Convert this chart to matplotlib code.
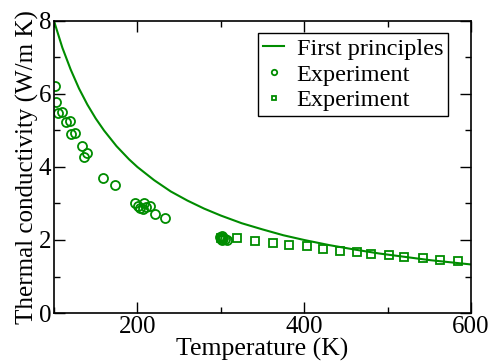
import matplotlib
matplotlib.use("Agg")
import matplotlib.pyplot as plt
from matplotlib.ticker import MultipleLocator

# First-principles curve
fp_T = [100, 110, 120, 130, 140, 150, 160, 175, 190, 200, 220, 240, 260, 280, 300,
        325, 350, 375, 400, 430, 460, 490, 520, 550, 575, 600]
fp_k = [8.00, 7.27, 6.67, 6.15, 5.71, 5.33, 5.00, 4.57, 4.21, 4.00, 3.64, 3.33,
        3.08, 2.86, 2.67, 2.46, 2.29, 2.13, 2.00, 1.86, 1.74, 1.63, 1.54, 1.45, 1.39, 1.33]

# Experiment (circles)
c_T = [101, 102, 105, 110, 114, 119, 120, 125, 133, 136, 140, 159, 173,
       197, 201, 203, 207, 208, 210, 215, 221, 233,
       299, 300, 301, 302, 303, 305, 307]
c_k = [6.23, 5.79, 5.49, 5.52, 5.22, 5.27, 4.91, 4.93, 4.58, 4.27, 4.39, 3.70, 3.51,
       3.02, 2.93, 2.89, 2.86, 3.00, 2.91, 2.92, 2.70, 2.61,
       2.08, 2.03, 2.10, 2.00, 2.06, 2.02, 2.00]

# Experiment (squares)
s_T = [300, 320, 341, 362, 382, 403, 423, 443, 463, 480, 502, 520, 542, 563, 584]
s_k = [2.05, 2.05, 1.98, 1.93, 1.87, 1.83, 1.76, 1.71, 1.66, 1.63, 1.60, 1.53, 1.50, 1.45, 1.42]

green = '#008c00'
plt.rcParams['font.family'] = ['Liberation Serif', 'DejaVu Serif']

fig = plt.figure(figsize=(4.93, 3.62), dpi=100)
ax = fig.add_axes([54/493, 1-313/362, (471-54)/493, (313-21)/362])

ax.plot(fp_T, fp_k, color=green, lw=1.5, label='First principles')
ax.plot(c_T, c_k, ls='none', marker='o', ms=6.5, mfc='none', mec=green, mew=1.3,
        label='Experiment')
ax.plot(s_T, s_k, ls='none', marker='s', ms=6, mfc='none', mec=green, mew=1.3,
        label='Experiment')

ax.set_xlim(100, 600)
ax.set_ylim(0, 8)
ax.xaxis.set_major_locator(MultipleLocator(200))
ax.xaxis.set_minor_locator(MultipleLocator(100))
ax.yaxis.set_major_locator(MultipleLocator(2))
ax.yaxis.set_minor_locator(MultipleLocator(1))
ax.tick_params(which='both', direction='in', top=True, right=True, labelsize=18, width=1)
ax.tick_params(which='major', length=8, pad=2)
ax.tick_params(which='minor', length=4)
for s in ax.spines.values():
    s.set_linewidth(1.2)
ax.set_xlabel('Temperature (K)', fontsize=18.5, labelpad=0)
ax.set_ylabel('Thermal conductivity (W/m K)', fontsize=18, labelpad=0)

leg = ax.legend(loc='upper right', bbox_to_anchor=(448/493, 1-33/362), bbox_transform=fig.transFigure,
                fontsize=17.5, handlelength=0.9, handletextpad=0.5, borderpad=0.2,
                labelspacing=0.15, markerscale=0.6, fancybox=False, framealpha=1,
                edgecolor='black', borderaxespad=0)
leg.get_frame().set_linewidth(1)

fig.savefig('out.png', dpi=100)
